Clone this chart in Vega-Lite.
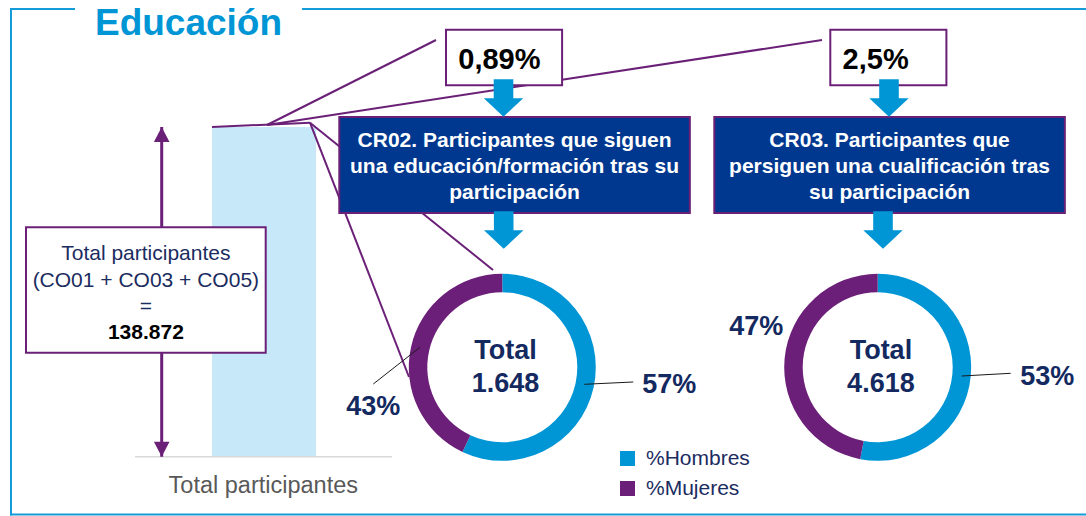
{
  "$schema": "https://vega.github.io/schema/vega-lite/v6.json",
  "width": 1086,
  "height": 516,
  "padding": 0,
  "autosize": {"type": "none"},
  "background": "white",
  "config": {
    "view": {"stroke": null},
    "font": "Liberation Sans",
    "locale": {"number": {"decimal": ",", "thousands": ".", "grouping": [3], "currency": ["", " €"]}}
  },
  "datasets": {
    "seccion": [{"seccion": "Educación"}],
    "total": [{"categoria": "Total participantes", "valor": 138872, "formula": ["Total participantes", "(CO01 + CO03 + CO05)", "="]}],
    "indicadores": [
      {"indicador": "CR02", "tasa": 0.0089, "total": 1648, "titulo": ["CR02. Participantes que siguen", "una educación/formación tras su", "participación"]},
      {"indicador": "CR03", "tasa": 0.025, "total": 4618, "titulo": ["CR03. Participantes que", "persiguen una cualificación tras", "su participación"]}
    ],
    "sexo": [
      {"indicador": "CR02", "sexo": "%Hombres", "porcentaje": 0.57},
      {"indicador": "CR02", "sexo": "%Mujeres", "porcentaje": 0.43},
      {"indicador": "CR03", "sexo": "%Hombres", "porcentaje": 0.53},
      {"indicador": "CR03", "sexo": "%Mujeres", "porcentaje": 0.47}
    ]
  },
  "resolve": {"scale": {"x": "independent", "y": "independent"}},
  "layer": [
    {
      "data": {"name": "seccion"},
      "encoding": {
        "x": {"datum": "izquierda", "type": "nominal", "axis": null, "scale": {"type": "point", "domain": ["izquierda", "derecha"], "padding": 0.0051163, "align": 1}},
        "y": {"datum": "arriba", "type": "nominal", "axis": null, "scale": {"type": "point", "domain": ["arriba", "abajo"], "padding": 0.0103858, "align": 0.857143}}
      },
      "layer": [
        {"mark": {"type": "rule", "color": "#159BD7", "strokeWidth": 2, "strokeCap": "square"}, "encoding": {"y2": {"datum": "abajo"}}},
        {"mark": {"type": "rule", "color": "#159BD7", "strokeWidth": 2, "strokeCap": "square"}, "encoding": {"x2": {"datum": "derecha"}}},
        {"mark": {"type": "rule", "color": "#159BD7", "strokeWidth": 2, "strokeCap": "square"}, "encoding": {"x2": {"datum": "derecha"}, "y": {"datum": "abajo", "type": "nominal", "axis": null, "scale": {"type": "point", "domain": ["arriba", "abajo"], "padding": 0.0103858, "align": 0.857143}}}}
      ]
    },
    {
      "data": {"name": "seccion"},
      "encoding": {
        "x": {"field": "seccion", "type": "nominal", "axis": null, "scale": {"type": "band", "paddingInner": 0.471478, "paddingOuter": 1, "align": 0.087311}},
        "y": {"field": "seccion", "type": "nominal", "axis": null, "scale": {"type": "band", "paddingInner": 0.858921, "paddingOuter": 1, "align": 0.014523}}
      },
      "layer": [
        {"mark": {"type": "rect", "fill": "white"}},
        {"mark": {"type": "text", "fontSize": 37, "fontWeight": "bold", "color": "#0096D6", "baseline": "middle", "align": "center"}, "encoding": {"text": {"field": "seccion"}}}
      ]
    },
    {
      "data": {"name": "total"},
      "mark": {"type": "bar", "color": "#C6E8F9"},
      "encoding": {
        "x": {"field": "categoria", "type": "nominal", "axis": null, "scale": {"type": "band", "paddingInner": 0.788187, "paddingOuter": 1, "align": 0.215886}},
        "y": {"field": "valor", "type": "quantitative", "axis": null, "scale": {"domain": [-24977, 192364], "zero": false, "nice": false}},
        "y2": {"datum": 0}
      }
    },
    {
      "data": {"name": "total"},
      "mark": {"type": "rule", "color": "#D9D9D9", "strokeWidth": 1.5},
      "encoding": {
        "x": {"datum": 0, "type": "quantitative", "axis": null, "scale": {"domain": [-0.525292, 3.700389], "zero": false, "nice": false}},
        "x2": {"datum": 1},
        "y": {"datum": 0, "type": "quantitative", "axis": null, "scale": {"domain": [-24977, 192364], "zero": false, "nice": false}}
      }
    },
    {
      "data": {"name": "total"},
      "mark": {"type": "text", "fontSize": 23.5, "color": "#595959", "baseline": "middle", "align": "center"},
      "encoding": {
        "x": {"field": "categoria", "type": "nominal", "axis": null, "scale": {"type": "point", "padding": 0.5, "align": 0.24245}},
        "y": {"field": "categoria", "type": "nominal", "axis": null, "scale": {"type": "point", "padding": 0.5, "align": 0.941279}},
        "text": {"field": "categoria"}
      }
    },
    {
      "data": {"name": "total"},
      "encoding": {
        "x": {"field": "categoria", "type": "nominal", "axis": null, "scale": {"type": "point", "padding": 0.5, "align": 0.148895}},
        "y": {"field": "valor", "type": "quantitative", "axis": null, "scale": {"domain": [-24977, 192364], "zero": false, "nice": false}}
      },
      "layer": [
        {"mark": {"type": "rule", "color": "#6B2077", "strokeWidth": 3}, "encoding": {"y2": {"datum": 0}}},
        {"mark": {"type": "point", "shape": "M0,0L-0.78,1.5L0.78,1.5Z", "size": 400, "filled": true, "opacity": 1, "color": "#6B2077", "strokeWidth": 0}},
        {"mark": {"type": "point", "shape": "M0,0L-0.78,-1.5L0.78,-1.5Z", "size": 400, "filled": true, "opacity": 1, "color": "#6B2077", "strokeWidth": 0},
         "encoding": {"y": {"datum": 0, "type": "quantitative", "axis": null, "scale": {"domain": [-24977, 192364], "zero": false, "nice": false}}}}
      ]
    },
    {
      "data": {"name": "total"},
      "mark": {"type": "rule", "color": "#6B2077", "strokeWidth": 2},
      "encoding": {
        "x": {"datum": 0, "type": "quantitative", "axis": null, "scale": {"domain": [-2.163265, 8.918367], "zero": false, "nice": false}},
        "x2": {"datum": 1},
        "y": {"datum": 0, "type": "quantitative", "axis": null, "scale": {"domain": [-90.465116, 29.534884], "zero": false, "nice": false}},
        "y2": {"datum": 1}
      }
    },
    {
      "data": {"name": "total"},
      "mark": {"type": "rule", "color": "#6B2077", "strokeWidth": 2},
      "encoding": {
        "x": {"datum": 0, "type": "quantitative", "axis": null, "scale": {"domain": [-1.579882, 4.846154], "zero": false, "nice": false}},
        "x2": {"datum": 1},
        "y": {"datum": 0, "type": "quantitative", "axis": null, "scale": {"domain": [-4.6, 1.470588], "zero": false, "nice": false}},
        "y2": {"datum": 1}
      }
    },
    {
      "data": {"name": "total"},
      "mark": {"type": "rule", "color": "#6B2077", "strokeWidth": 2},
      "encoding": {
        "x": {"datum": 0, "type": "quantitative", "axis": null, "scale": {"domain": [-0.481081, 1.475676], "zero": false, "nice": false}},
        "x2": {"datum": 1},
        "y": {"datum": 0, "type": "quantitative", "axis": null, "scale": {"domain": [-4.6, 1.470588], "zero": false, "nice": false}},
        "y2": {"datum": 1}
      }
    },
    {
      "data": {"name": "total"},
      "mark": {"type": "rule", "color": "#6B2077", "strokeWidth": 2},
      "encoding": {
        "x": {"datum": 0, "type": "quantitative", "axis": null, "scale": {"domain": [-1.693989, 4.240437], "zero": false, "nice": false}},
        "x2": {"datum": 1},
        "y": {"datum": 0, "type": "quantitative", "axis": null, "scale": {"domain": [2.670061, -0.832994], "zero": false, "nice": false}},
        "y2": {"datum": 1}
      }
    },
    {
      "data": {"name": "total"},
      "mark": {"type": "rule", "color": "#6B2077", "strokeWidth": 2},
      "encoding": {
        "x": {"datum": 0, "type": "quantitative", "axis": null, "scale": {"domain": [-3.131313, 7.838384], "zero": false, "nice": false}},
        "x2": {"datum": 1},
        "y": {"datum": 0, "type": "quantitative", "axis": null, "scale": {"domain": [1.546598, -0.482501], "zero": false, "nice": false}},
        "y2": {"datum": 1}
      }
    },
    {
      "data": {"name": "total"},
      "encoding": {
        "x": {"field": "categoria", "type": "nominal", "axis": null, "scale": {"type": "band", "paddingInner": 0.433534, "paddingOuter": 1, "align": 0.030722}},
        "y": {"field": "categoria", "type": "nominal", "axis": null, "scale": {"type": "band", "paddingInner": 0.357911, "paddingOuter": 1, "align": 0.581925}}
      },
      "layer": [
        {"mark": {"type": "rect", "fill": "white", "stroke": "#6B2077", "strokeWidth": 2}},
        {"mark": {"type": "text", "fontSize": 21, "color": "#1B2C5F", "lineHeight": 26.5, "baseline": "middle", "align": "center"},
         "encoding": {
           "y": {"field": "categoria", "type": "nominal", "bandPosition": 0.2169, "axis": null, "scale": {"type": "band", "paddingInner": 0.357911, "paddingOuter": 1, "align": 0.581925}},
           "text": {"field": "formula"}
         }},
        {"mark": {"type": "text", "fontSize": 21, "fontWeight": "bold", "color": "#000000", "baseline": "middle", "align": "center"},
         "encoding": {
           "y": {"field": "categoria", "type": "nominal", "bandPosition": 0.8405, "axis": null, "scale": {"type": "band", "paddingInner": 0.357911, "paddingOuter": 1, "align": 0.581925}},
           "text": {"field": "valor", "type": "quantitative", "format": ",d"}
         }}
      ]
    },
    {
      "data": {"name": "indicadores"},
      "encoding": {
        "x": {"field": "indicador", "type": "nominal", "axis": null, "scale": {"type": "band", "domain": ["CR02", "CR03"], "paddingInner": 0.697892, "paddingOuter": 0.761905, "align": 0.761612}},
        "y": {"datum": "tasa", "type": "nominal", "axis": null, "scale": {"type": "band", "domain": ["tasa"], "paddingInner": 0.759931, "paddingOuter": 1, "align": 0.064793}}
      },
      "layer": [
        {"mark": {"type": "rect", "fill": "white", "stroke": "#6B2077", "strokeWidth": 2}},
        {"mark": {"type": "text", "fontSize": 29, "fontWeight": "bold", "color": "#000000", "baseline": "middle", "align": "left"},
         "encoding": {
           "x": {"field": "indicador", "type": "nominal", "bandPosition": 0.106, "axis": null, "scale": {"type": "band", "domain": ["CR02", "CR03"], "paddingInner": 0.697892, "paddingOuter": 0.761905, "align": 0.761612}},
           "y": {"datum": "tasa", "type": "nominal", "bandPosition": 0.545, "axis": null, "scale": {"type": "band", "domain": ["tasa"], "paddingInner": 0.759931, "paddingOuter": 1, "align": 0.064793}},
           "text": {"field": "tasa", "type": "quantitative", "format": ".2~%"}
         }}
      ]
    },
    {
      "data": {"name": "indicadores"},
      "encoding": {
        "x": {"field": "indicador", "type": "nominal", "axis": null, "scale": {"type": "band", "domain": ["CR02", "CR03"], "paddingInner": 0.0652, "paddingOuter": 0.4806, "align": 0.941324}},
        "y": {"datum": "titulo", "type": "nominal", "axis": null, "scale": {"type": "band", "domain": ["titulo"], "paddingInner": 0.542272, "paddingOuter": 1, "align": 0.2784}}
      },
      "layer": [
        {"mark": {"type": "rect", "fill": "#003890", "stroke": "#6B2077", "strokeWidth": 2}},
        {"mark": {"type": "text", "fontSize": 21, "fontWeight": "bold", "color": "#FFFFFF", "lineHeight": 25.8, "baseline": "middle", "align": "center"},
         "encoding": {
           "y": {"datum": "titulo", "type": "nominal", "bandPosition": 0.252, "axis": null, "scale": {"type": "band", "domain": ["titulo"], "paddingInner": 0.542272, "paddingOuter": 1, "align": 0.2784}},
           "text": {"field": "titulo"}
         }}
      ]
    },
    {
      "data": {"name": "indicadores"},
      "mark": {"type": "point", "shape": "M-0.98,-3.75L0.98,-3.75L0.98,-1.85L1.97,-1.85L0,0L-1.97,-1.85L-0.98,-1.85Z", "size": 400, "filled": true, "opacity": 1, "color": "#0096D6", "strokeWidth": 0},
      "encoding": {
        "x": {"field": "indicador", "type": "nominal", "axis": null, "scale": {"type": "point", "domain": ["CR02", "CR03"], "padding": 0.90856, "align": 0.718772}},
        "y": {"datum": "flecha", "type": "nominal", "axis": null, "scale": {"type": "point", "domain": ["flecha"], "padding": 0.5, "align": 0.226163}}
      }
    },
    {
      "data": {"name": "indicadores"},
      "mark": {"type": "point", "shape": "M-0.98,-3.75L0.98,-3.75L0.98,-1.85L1.97,-1.85L0,0L-1.97,-1.85L-0.98,-1.85Z", "size": 400, "filled": true, "opacity": 1, "color": "#0096D6", "strokeWidth": 0},
      "encoding": {
        "x": {"field": "indicador", "type": "nominal", "axis": null, "scale": {"type": "point", "domain": ["CR02", "CR03"], "padding": 0.931585, "align": 0.712749}},
        "y": {"datum": "flecha", "type": "nominal", "axis": null, "scale": {"type": "point", "domain": ["flecha"], "padding": 0.5, "align": 0.482267}}
      }
    },
    {
      "data": {"name": "sexo"},
      "encoding": {
        "x": {"field": "indicador", "type": "nominal", "axis": null, "scale": {"type": "band", "domain": ["CR02", "CR03"], "paddingInner": 0.982951, "paddingOuter": 0.937932, "align": 0.713292}},
        "y": {"datum": "centro", "type": "nominal", "axis": null, "scale": {"type": "band", "domain": ["centro"], "paddingInner": 0.862912, "paddingOuter": 1, "align": 0.726341}}
      },
      "layer": [
        {
          "transform": [{"filter": "datum.indicador === 'CR02'"}],
          "mark": {"type": "arc", "radius": 93.5, "radius2": 75},
          "encoding": {
            "x": {"field": "indicador", "type": "nominal", "bandPosition": 0, "axis": null, "scale": {"type": "band", "domain": ["CR02", "CR03"], "paddingInner": 0.982951, "paddingOuter": 0.937932, "align": 0.713292}},
            "y": {"datum": "centro", "type": "nominal", "bandPosition": 0.5, "axis": null, "scale": {"type": "band", "domain": ["centro"], "paddingInner": 0.862912, "paddingOuter": 1, "align": 0.726341}},
            "theta": {"field": "porcentaje", "type": "quantitative", "stack": true},
            "order": {"field": "sexo"},
            "color": {"field": "sexo", "type": "nominal",
              "scale": {"domain": ["%Hombres", "%Mujeres"], "range": ["#0096D6", "#6C1F78"]},
              "legend": {"orient": "none", "legendX": 617, "legendY": 448, "title": null, "symbolType": "square", "symbolSize": 225, "symbolStrokeWidth": 0, "symbolOpacity": 1, "labelFontSize": 21, "labelColor": "#1B2C5F", "labelOffset": 8, "rowPadding": 8, "padding": 0}}
          }
        },
        {
          "transform": [{"filter": "datum.indicador === 'CR03'"}],
          "mark": {"type": "arc", "radius": 93.5, "radius2": 75},
          "encoding": {
            "x": {"field": "indicador", "type": "nominal", "bandPosition": 0, "axis": null, "scale": {"type": "band", "domain": ["CR02", "CR03"], "paddingInner": 0.982951, "paddingOuter": 0.937932, "align": 0.713292}},
            "y": {"datum": "centro", "type": "nominal", "bandPosition": 0.5, "axis": null, "scale": {"type": "band", "domain": ["centro"], "paddingInner": 0.862912, "paddingOuter": 1, "align": 0.726341}},
            "theta": {"field": "porcentaje", "type": "quantitative", "stack": true},
            "order": {"field": "sexo"},
            "color": {"field": "sexo", "type": "nominal", "scale": {"domain": ["%Hombres", "%Mujeres"], "range": ["#0096D6", "#6C1F78"]}}
          }
        },
        {
          "data": {"name": "indicadores"},
          "mark": {"type": "text", "fontSize": 27, "fontWeight": "bold", "color": "#13295F", "baseline": "middle", "align": "center"},
          "encoding": {
            "x": {"field": "indicador", "type": "nominal", "bandPosition": 0.5, "axis": null, "scale": {"type": "band", "domain": ["CR02", "CR03"], "paddingInner": 0.982951, "paddingOuter": 0.937932, "align": 0.713292}},
            "y": {"datum": "centro", "type": "nominal", "bandPosition": 0, "axis": null, "scale": {"type": "band", "domain": ["centro"], "paddingInner": 0.862912, "paddingOuter": 1, "align": 0.726341}},
            "text": {"value": "Total"}
          }
        },
        {
          "data": {"name": "indicadores"},
          "mark": {"type": "text", "fontSize": 27, "fontWeight": "bold", "color": "#13295F", "baseline": "middle", "align": "center"},
          "encoding": {
            "x": {"field": "indicador", "type": "nominal", "bandPosition": 0.5, "axis": null, "scale": {"type": "band", "domain": ["CR02", "CR03"], "paddingInner": 0.982951, "paddingOuter": 0.937932, "align": 0.713292}},
            "y": {"datum": "centro", "type": "nominal", "bandPosition": 1, "axis": null, "scale": {"type": "band", "domain": ["centro"], "paddingInner": 0.862912, "paddingOuter": 1, "align": 0.726341}},
            "text": {"field": "total", "type": "quantitative", "format": ",d"}
          }
        }
      ]
    },
    {
      "data": {"name": "sexo"},
      "transform": [{"filter": "datum.indicador === 'CR02' && datum.sexo === '%Hombres'"}],
      "mark": {"type": "text", "fontSize": 27, "fontWeight": "bold", "color": "#13295F", "baseline": "middle", "align": "center"},
      "encoding": {
        "x": {"field": "sexo", "type": "nominal", "axis": null, "scale": {"type": "point", "padding": 0.5, "align": 0.616206}},
        "y": {"field": "sexo", "type": "nominal", "axis": null, "scale": {"type": "point", "padding": 0.5, "align": 0.74593}},
        "text": {"field": "porcentaje", "type": "quantitative", "format": ".0%"}
      }
    },
    {
      "data": {"name": "sexo"},
      "transform": [{"filter": "datum.indicador === 'CR02' && datum.sexo === '%Mujeres'"}],
      "mark": {"type": "text", "fontSize": 27, "fontWeight": "bold", "color": "#13295F", "baseline": "middle", "align": "center"},
      "encoding": {
        "x": {"field": "sexo", "type": "nominal", "axis": null, "scale": {"type": "point", "padding": 0.5, "align": 0.343738}},
        "y": {"field": "sexo", "type": "nominal", "axis": null, "scale": {"type": "point", "padding": 0.5, "align": 0.787984}},
        "text": {"field": "porcentaje", "type": "quantitative", "format": ".0%"}
      }
    },
    {
      "data": {"name": "sexo"},
      "transform": [{"filter": "datum.indicador === 'CR03' && datum.sexo === '%Hombres'"}],
      "mark": {"type": "text", "fontSize": 27, "fontWeight": "bold", "color": "#13295F", "baseline": "middle", "align": "center"},
      "encoding": {
        "x": {"field": "sexo", "type": "nominal", "axis": null, "scale": {"type": "point", "padding": 0.5, "align": 0.964273}},
        "y": {"field": "sexo", "type": "nominal", "axis": null, "scale": {"type": "point", "padding": 0.5, "align": 0.729845}},
        "text": {"field": "porcentaje", "type": "quantitative", "format": ".0%"}
      }
    },
    {
      "data": {"name": "sexo"},
      "transform": [{"filter": "datum.indicador === 'CR03' && datum.sexo === '%Mujeres'"}],
      "mark": {"type": "text", "fontSize": 27, "fontWeight": "bold", "color": "#13295F", "baseline": "middle", "align": "center"},
      "encoding": {
        "x": {"field": "sexo", "type": "nominal", "axis": null, "scale": {"type": "point", "padding": 0.5, "align": 0.696409}},
        "y": {"field": "sexo", "type": "nominal", "axis": null, "scale": {"type": "point", "padding": 0.5, "align": 0.633333}},
        "text": {"field": "porcentaje", "type": "quantitative", "format": ".0%"}
      }
    },
    {
      "data": {"name": "sexo"},
      "transform": [{"filter": "datum.indicador === 'CR02' && datum.sexo === '%Hombres'"}],
      "mark": {"type": "rule", "color": "#1A1A1A", "strokeWidth": 1},
      "encoding": {
        "x": {"datum": 0, "type": "quantitative", "axis": null, "scale": {"domain": [-11.92449, 10.238776], "zero": false, "nice": false}},
        "x2": {"datum": 1},
        "y": {"datum": 0, "type": "quantitative", "axis": null, "scale": {"domain": [-57.26087, 167.086957], "zero": false, "nice": false}},
        "y2": {"datum": 1}
      }
    },
    {
      "data": {"name": "sexo"},
      "transform": [{"filter": "datum.indicador === 'CR03' && datum.sexo === '%Hombres'"}],
      "mark": {"type": "rule", "color": "#1A1A1A", "strokeWidth": 1},
      "encoding": {
        "x": {"datum": 0, "type": "quantitative", "axis": null, "scale": {"domain": [-19.626531, 2.536735], "zero": false, "nice": false}},
        "x2": {"datum": 1},
        "y": {"datum": 0, "type": "quantitative", "axis": null, "scale": {"domain": [-51.851852, 139.259259], "zero": false, "nice": false}},
        "y2": {"datum": 1}
      }
    },
    {
      "data": {"name": "sexo"},
      "transform": [{"filter": "datum.indicador === 'CR02' && datum.sexo === '%Mujeres'"}],
      "mark": {"type": "rule", "color": "#1A1A1A", "strokeWidth": 1},
      "encoding": {
        "x": {"datum": 0, "type": "quantitative", "axis": null, "scale": {"domain": [8.993576, -14.261242], "zero": false, "nice": false}},
        "x2": {"datum": 1},
        "y": {"datum": 0, "type": "quantitative", "axis": null, "scale": {"domain": [4.59673, -9.463215], "zero": false, "nice": false}},
        "y2": {"datum": 1}
      }
    }
  ]
}
